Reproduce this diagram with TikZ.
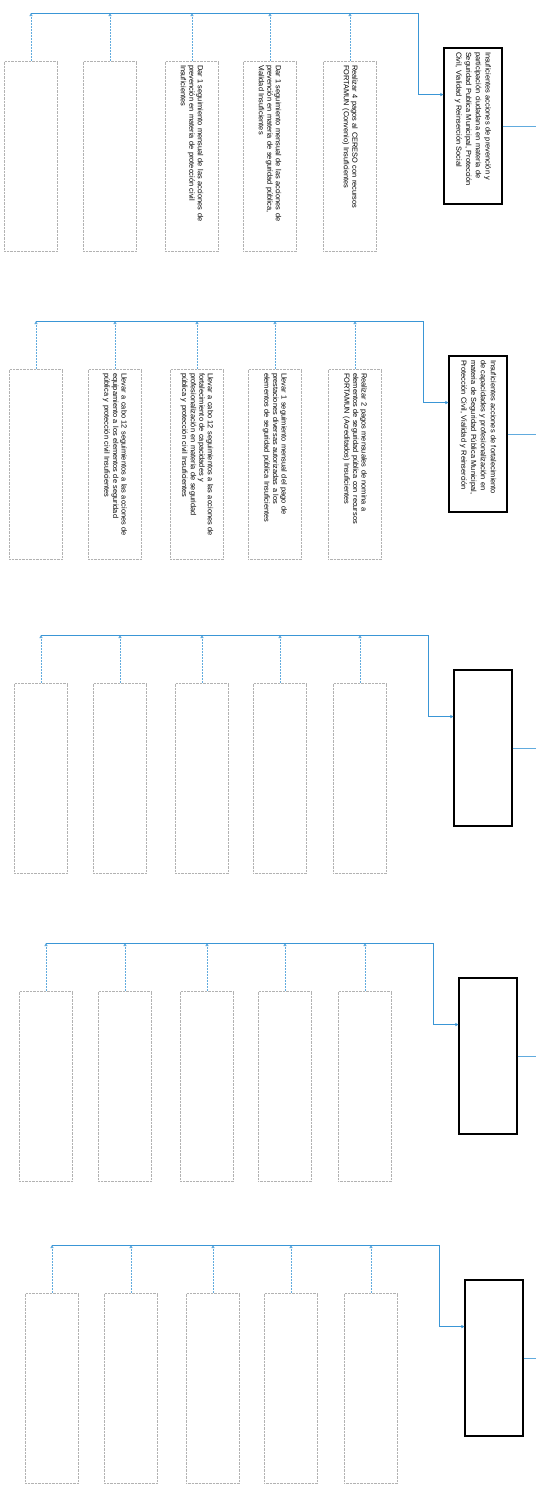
\documentclass[tikz,border=0pt]{standalone}
\usepackage{fontspec}
\setmainfont{Liberation Sans}
\usetikzlibrary{calc,arrows.meta}
\definecolor{linkblue}{RGB}{58,150,214}

\begin{document}
\begin{tikzpicture}[x=1pt, y=-1pt, >={Triangle[length=3pt,width=3pt]},
  leaf/.style={draw=gray!60, densely dotted, line width=0.4pt, rotate=-90, minimum width=190pt, minimum height=53pt,
    text width=182pt, inner xsep=4pt, align=left, font=\fontsize{7.4}{8.6}\selectfont},
  lead/.style={draw=black, line width=1.1pt, rotate=-90, minimum width=156pt, minimum height=58pt,
    text width=148pt, inner xsep=4pt, align=left, font=\fontsize{7.4}{9.8}\selectfont},
  trunk/.style={draw=linkblue, line width=0.9pt},
  feed/.style={draw=linkblue!80, densely dotted, line width=0.5pt}]
  \fill[white] (0,0) rectangle (536,1499);
  \useasboundingbox (0,0) rectangle (536,1499);
  \coordinate (edge) at (536,0);

  % first group
  \begin{scope}[shift={(0,13)}]
    \node[lead] (g1m) at (473,113) {Insuficientes acciones de prevención y\\participación ciudadana en materia de\\Seguridad Publica Municipal, Protección\\Civil, Vialidad y Reinserción Social};
    \foreach \n/\x/\t in {1/31/{}, 2/110/{},
        3/192/{Dar 1 seguimiento mensual de las acciones de\\prevención en materia de protección civil\\Insuficientes},
        4/270/{Dar 1 seguimiento mensual de las acciones de\\prevención en materia de seguridad pública,\\Vialidad Insuficientes},
        5/350/{Realizar 4 pagos al CERESO con recursos\\FORTAMUN (Convenio) Insuficientes}}
      \node[leaf] (g1c\n) at (\x,143) {\t};
    \coordinate (g1j) at (418,0);
    \coordinate (g1in) at ($(g1m.south west)!0.3!(g1m.south east)$);
  \end{scope}

  % second group
  \begin{scope}[shift={(5,321)}]
    \node[lead] (g2m) at (473,113) {Insuficientes acciones de fortalecimiento\\de capacidades y profesionalización en\\materia de Seguridad Pública Municipal,\\Protección Civil, Vialidad y Reinserción};
    \foreach \n/\x/\t in {1/31/{},
        2/110/{Llevar a cabo 12 seguimientos a las acciones de\\equipamiento a los elementos de seguridad\\pública y protección civil Insuficientes},
        3/192/{Llevar a cabo 12 seguimientos a las acciones de\\fortalecimiento de capacidades y\\profesionalización en materia de seguridad\\pública y protección civil Insuficientes},
        4/270/{Llevar 1 seguimiento mensual del pago de\\prestaciones diversas autorizadas a los\\elementos de seguridad pública Insuficientes},
        5/350/{Realizar 2 pagos mensuales de nomina a\\elementos de seguridad pública con recursos\\FORTAMUN (Acreditados) Insuficientes}}
      \node[leaf] (g2c\n) at (\x,143) {\t};
    \coordinate (g2j) at (418,0);
    \coordinate (g2in) at ($(g2m.south west)!0.3!(g2m.south east)$);
  \end{scope}

  % empty groups
  \foreach \g/\dx/\by in {3/10/635, 4/15/943, 5/21/1245} {
    \begin{scope}[shift={(\dx,\by)}]
      \node[lead] (g\g m) at (473,113) {};
      \foreach \n/\x in {1/31, 2/110, 3/192, 4/270, 5/350}
        \node[leaf] (g\g c\n) at (\x,143) {};
      \coordinate (g\g j) at (418,0);
      \coordinate (g\g in) at ($(g\g m.south west)!0.3!(g\g m.south east)$);
    \end{scope}
  }

  % connectors
  \foreach \g in {1,...,5} {
    \foreach \n in {1,...,5}
      \draw[feed,->] (g\g c\n.west) -- (g\g c\n.west |- g\g j);
    \draw[trunk,->] (g\g c1.west |- g\g j) -- (g\g j) |- (g\g in);
    \draw[feed,solid] (g\g m.north) -- (g\g m.north -| edge);
  }
\end{tikzpicture}
\end{document}
